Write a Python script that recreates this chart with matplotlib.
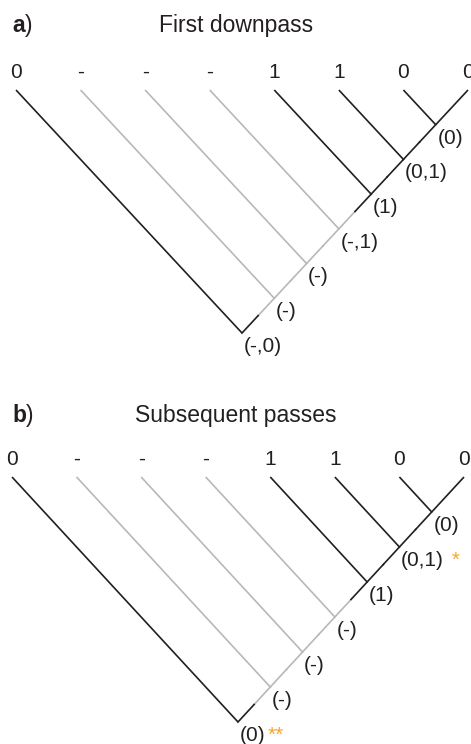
import matplotlib.pyplot as plt

plt.rcParams['font.family'] = ['Liberation Sans', 'DejaVu Sans']

# character states at the tips (same in both panels)
tip_states = ['0', '-', '-', '-', '1', '1', '0', '0']
# which tip branches are drawn grey (gap-coded taxa)
tip_grey = [False, True, True, True, False, False, False, False]
# internal node state sets, root first, then up the ladder
nodes_a = ['(-,0)', '(-)', '(-)', '(-,1)', '(1)', '(0,1)', '(0)']
nodes_b = ['(0)', '(-)', '(-)', '(-)', '(1)', '(0,1)', '(0)']
marks_a = ['', '', '', '', '', '', '']
marks_b = ['**', '', '', '', '', ' *', '']
# backbone pieces between consecutive nodes: (lower half, upper half), g = grey
spine_cols = [('k', 'g'), ('g', 'g'), ('g', 'g'), ('g', 'k'), ('k', 'k'), ('k', 'k')]
titles = ['First downpass', 'Subsequent passes']
tags = ['a', 'b']

W, H = 471, 744
BLACK = '#231f20'
GREY = '#b8b8b8'
ORANGE = '#f6a82a'
LW = 1.2
FS = 15
COL = {'k': BLACK, 'g': GREY}

fig = plt.figure(figsize=(W / 100, H / 100), dpi=100)


def make_axes(top, bottom, first_px, last_px, depth0_px, root_px):
    # axes spanning pixel rows top..bottom, limits set so tips/root land on given pixels
    n = len(tip_states)
    ax = fig.add_axes([0, 1 - bottom / H, 1, (bottom - top) / H])
    sx = (last_px - first_px) / (n - 1)
    sy = (root_px - depth0_px) / ((n - 1) / 2)
    ax.set_xlim(-first_px / sx, (W - first_px) / sx)
    ax.set_ylim((bottom - depth0_px) / sy, (top - depth0_px) / sy)
    ax.axis('off')
    return ax


def draw_tree(ax, node_labels, marks):
    n = len(tip_states)
    nx = [(k + n - 1) / 2 for k in range(n - 1)]
    ny = [(n - 1 - k) / 2 for k in range(n - 1)]
    # grey pieces first, black on top
    for layer in ('g', 'k'):
        for i, s in enumerate(tip_states):
            k = min(i, n - 2)
            c = 'g' if tip_grey[i] else 'k'
            if c == layer:
                ax.plot([i, nx[k]], [0, ny[k]], color=COL[c], lw=LW, solid_capstyle='butt')
        for k, (lo, hi) in enumerate(spine_cols):
            mx, my = (nx[k] + nx[k + 1]) / 2, (ny[k] + ny[k + 1]) / 2
            if lo == layer:
                ax.plot([nx[k], mx], [ny[k], my], color=COL[lo], lw=LW, solid_capstyle='projecting')
            if hi == layer:
                ax.plot([mx, nx[k + 1]], [my, ny[k + 1]], color=COL[hi], lw=LW, solid_capstyle='projecting')
    for i, s in enumerate(tip_states):
        ax.annotate(s, (i, 0), xytext=(0, 8.6), textcoords='offset points',
                    ha='center', va='baseline', fontsize=FS, color=BLACK)
    for k, lab in enumerate(node_labels):
        t = ax.annotate(lab, (nx[k], ny[k]), xytext=(1.2, -13.6), textcoords='offset points',
                        ha='left', va='baseline', fontsize=FS, color=BLACK)
        if marks[k]:
            ax.annotate(marks[k], xy=(1, 0), xycoords=t, xytext=(1.5, 0),
                        textcoords='offset points', ha='left', va='bottom',
                        fontsize=FS, color=ORANGE)


def panel_title(tag, title, base_px):
    y = 1 - base_px / H
    t = fig.text(12 / W, y, tag, fontsize=16.5, weight='bold', va='baseline', color=BLACK)
    plt.annotate(')', xy=(1, 0), xycoords=t, xytext=(0.3, 0), textcoords='offset points',
                 ha='left', va='bottom', fontsize=16.5, color=BLACK)
    fig.text(236 / W, y, title, fontsize=16.5, ha='center', va='baseline', color=BLACK)


ax_a = make_axes(0, 372, 16, 468, 90, 333)
draw_tree(ax_a, nodes_a, marks_a)
panel_title(tags[0], titles[0], 32)

ax_b = make_axes(372, 744, 12, 464, 477, 722)
draw_tree(ax_b, nodes_b, marks_b)
panel_title(tags[1], titles[1], 422)

fig.savefig('out.png', dpi=100)
